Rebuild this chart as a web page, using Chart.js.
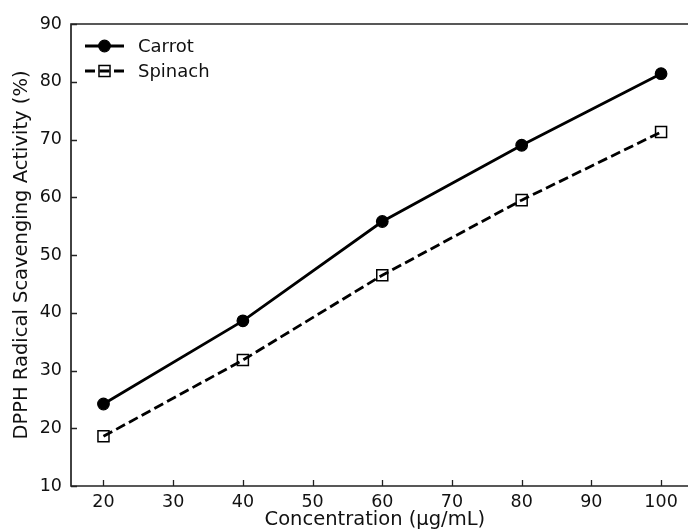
<!DOCTYPE html>
<html><head><meta charset="utf-8">
<script src="https://cdn.jsdelivr.net/npm/chart.js@4.4.1/dist/chart.umd.min.js"></script>
<style>
html,body{margin:0;padding:0;background:#fff;overflow:hidden;}
#wrap{width:688px;height:531px;position:relative;overflow:hidden;}
canvas{display:block;}
</style></head><body>
<div id="wrap"><canvas id="c" width="688" height="531"></canvas></div>
<script>
// ---- data ----
const concentrations = [20, 40, 60, 80, 100];
const carrotValues = [24.2, 38.6, 55.8, 69.0, 81.4];
const spinachValues = [18.6, 31.8, 46.5, 59.5, 71.3];
const xTickValues = [20, 30, 40, 50, 60, 70, 80, 90, 100];
const yTickValues = [10, 20, 30, 40, 50, 60, 70, 80, 90];
const seriesNames = ['Carrot', 'Spinach'];
const xTitle = 'Concentration (\u00b5g/mL)';
const yTitle = 'DPPH Radical Scavenging Activity (%)';

const FONT = "'DejaVu Sans', 'Liberation Sans', sans-serif";
Chart.defaults.font.family = FONT;
Chart.defaults.color = '#111';

const toXY = (xs, ys) => xs.map((x, i) => ({x: x, y: ys[i]}));

// left, top and bottom spines (the right spine lies beyond the picture) + inward ticks
const framePlugin = {
  id: 'frame',
  afterDraw(chart) {
    const {ctx, chartArea: a, scales} = chart;
    const edge = chart.width + 2;
    ctx.save();
    ctx.strokeStyle = '#222';
    ctx.lineWidth = 1.7;
    ctx.setLineDash([]);
    ctx.beginPath();
    ctx.moveTo(edge, a.top); ctx.lineTo(a.left, a.top);
    ctx.lineTo(a.left, a.bottom); ctx.lineTo(edge, a.bottom);
    ctx.stroke();
    ctx.lineWidth = 1.3;
    ctx.beginPath();
    xTickValues.forEach(v => {
      const px = Math.round(scales.x.getPixelForValue(v)) + 0.5;
      ctx.moveTo(px, a.bottom); ctx.lineTo(px, a.bottom - 6);
    });
    yTickValues.forEach(v => {
      const py = Math.round(scales.y.getPixelForValue(v)) + 0.5;
      ctx.moveTo(a.left, py); ctx.lineTo(a.left + 6, py);
    });
    ctx.stroke();
    ctx.restore();
  }
};

// matplotlib-like legend inside the axes
const legendPlugin = {
  id: 'mplLegend',
  afterDraw(chart) {
    const ctx = chart.ctx;
    const a = chart.chartArea;
    const x0 = a.left + 14, x1 = a.left + 53, xm = (x0 + x1) / 2;
    const rows = [a.top + 22, a.top + 47];
    chart.data.datasets.forEach((ds, i) => {
      const y = rows[i];
      ctx.save();
      ctx.strokeStyle = ds.borderColor;
      ctx.lineWidth = ds.borderWidth;
      ctx.setLineDash(ds.borderDash || []);
      ctx.beginPath(); ctx.moveTo(x0, y); ctx.lineTo(x1, y); ctx.stroke();
      ctx.setLineDash([]);
      ctx.lineWidth = ds.pointBorderWidth;
      if (ds.pointStyle === 'circle') {
        ctx.fillStyle = ds.pointBackgroundColor;
        ctx.beginPath(); ctx.arc(xm, y, ds.pointRadius, 0, Math.PI * 2);
        ctx.fill(); ctx.stroke();
      } else {
        const s = ds.pointRadius * Math.SQRT1_2;
        ctx.strokeRect(xm - s, y - s, 2 * s, 2 * s);
      }
      ctx.fillStyle = '#111';
      ctx.font = '18px ' + FONT;
      ctx.textBaseline = 'middle';
      ctx.textAlign = 'left';
      ctx.fillText(ds.label, a.left + 67, y + 1);
      ctx.restore();
    });
  }
};

new Chart(document.getElementById('c'), {
  type: 'line',
  data: {
    datasets: [
      {
        label: seriesNames[0],
        data: toXY(concentrations, carrotValues),
        borderColor: '#000', backgroundColor: '#000',
        borderWidth: 2.8,
        pointStyle: 'circle', pointRadius: 5.8, pointBorderWidth: 1.2,
        pointBackgroundColor: '#000', pointBorderColor: '#000',
        tension: 0
      },
      {
        label: seriesNames[1],
        data: toXY(concentrations, spinachValues),
        borderColor: '#000', backgroundColor: 'transparent',
        borderWidth: 2.8, borderDash: [10, 4.5],
        pointStyle: 'rect', pointRadius: 7.8, pointBorderWidth: 1.5,
        pointBackgroundColor: 'transparent', pointBorderColor: '#000',
        tension: 0
      }
    ]
  },
  options: {
    responsive: false,
    animation: false,
    devicePixelRatio: 1,
    layout: {padding: {top: 24, right: 0, left: 0, bottom: 0}},
    plugins: {legend: {display: false}, tooltip: {enabled: false}},
    scales: {
      x: {
        type: 'linear', min: 15.34, max: 102.53,
        afterBuildTicks: s => { s.ticks = xTickValues.map(v => ({value: v})); },
        afterFit: s => { s.height = 45; },
        grid: {display: false, drawTicks: false},
        border: {display: false},
        ticks: {padding: 6, font: {size: 17.5}, color: '#111', maxRotation: 0},
        title: {display: true, text: xTitle, font: {size: 19.5}, color: '#111', padding: {top: 0, bottom: -1}}
      },
      y: {
        type: 'linear', min: 10, max: 90,
        afterBuildTicks: s => { s.ticks = yTickValues.map(v => ({value: v})); },
        afterFit: s => { s.width = 71; },
        grid: {display: false, drawTicks: false},
        border: {display: false},
        ticks: {padding: 9, font: {size: 17.5}, color: '#111'},
        title: {display: true, text: yTitle, font: {size: 19.5}, color: '#111', padding: {top: 10, bottom: 0}}
      }
    }
  },
  plugins: [framePlugin, legendPlugin]
});
</script>
</body></html>
